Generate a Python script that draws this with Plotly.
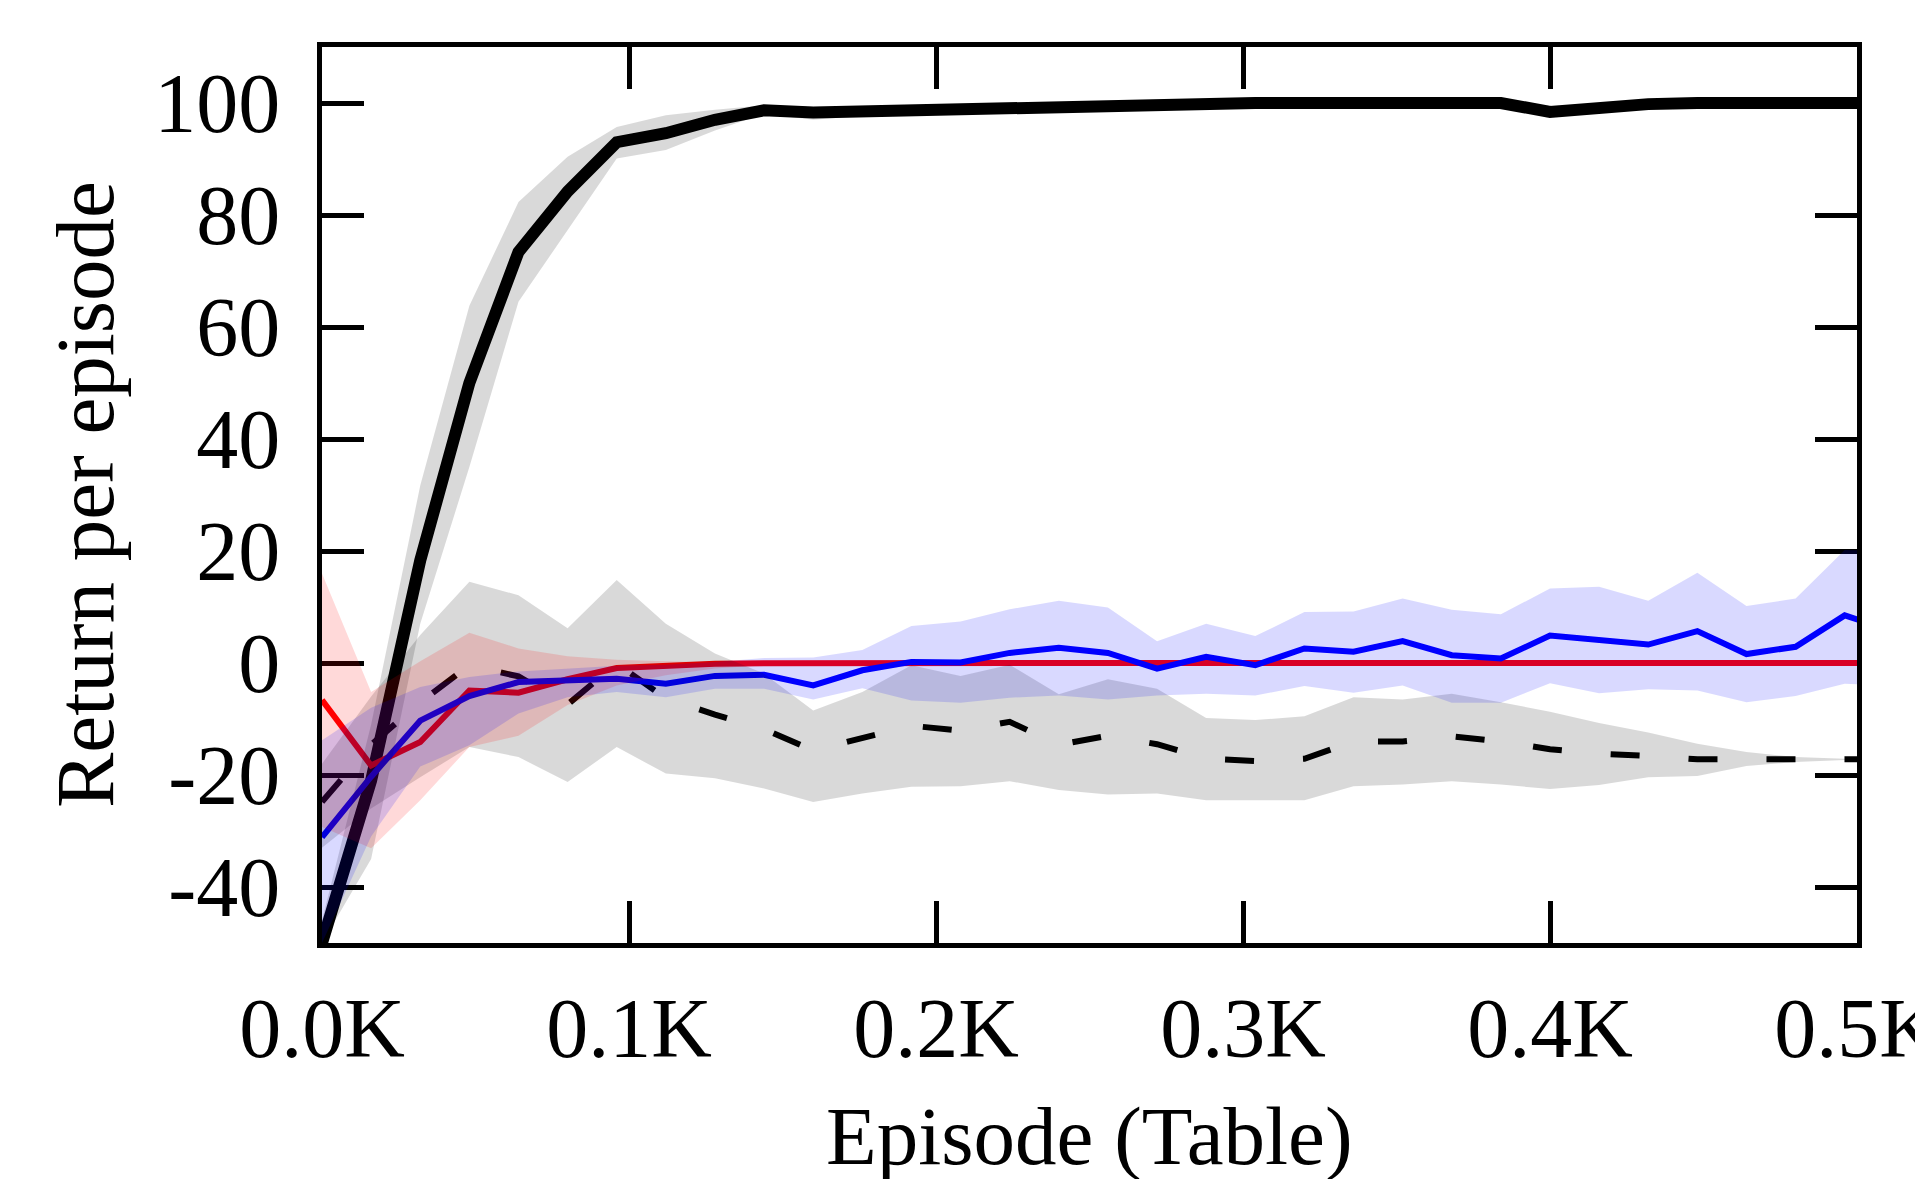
import plotly.graph_objects as go

# Episode grid (one point every 16 episodes; last point lies just past the axis end)
episodes = [0, 16, 32, 48, 64, 80, 96, 112, 128, 144, 160, 176, 192, 208, 224, 240,
            256, 272, 288, 304, 320, 336, 352, 368, 384, 400, 416, 432, 448, 464,
            480, 496, 512]

# Thick solid black series (mean, upper, lower)
solid_mean = [-50, -21, 18.3, 50, 73.4, 84.2, 93.0, 94.6, 97.0, 98.7, 98.3, 98.5, 98.7,
              99.0, 99.2, 99.5, 99.8, 100, 100, 100, 100, 100, 100, 100, 100, 98.4, 99.2,
              99.8, 100, 100, 100, 100, 100]
solid_hi = [-46, -11, 31.7, 63.8, 82.3, 90.4, 95.7, 97.8, 98.8, 99.6, 99.3, 99.3, 99.4,
            99.5, 99.6, 99.8, 99.9, 100, 100, 100, 100, 100, 100, 100, 100, 98.7, 99.4,
            99.9, 100, 100, 100, 100, 100]
solid_lo = [-50, -35, 7, 35, 64.5, 77.3, 90.1, 91.6, 95.1, 98.1, 97.0, 97.7, 98.0,
            98.5, 98.8, 99.2, 99.6, 100, 100, 100, 100, 100, 100, 100, 100, 97.9, 99.0,
            99.7, 100, 100, 100, 100, 100]

# Dashed black series
dashed_mean = [-24.8, -14.6, -7.0, -0.4, -2.4, -7.4, -0.1, -6.3, -9.2, -11.8, -15.6, -13.3,
               -11.2, -12.1, -10.5, -14.6, -13.0, -14.5, -17.1, -17.5, -17.1, -14.0, -14.0,
               -13.1, -14.0, -15.4, -16.2, -16.6, -17.2, -17.2, -17.2, -17.2, -17.2]
dashed_hi = [-18, -6, 5, 14.5, 12.1, 6.2, 14.8, 7.0, 1.7, -1.9, -8.5, -5.2, -0.4, -2.3,
             -0.3, -5.6, -2.9, -4.6, -9.8, -10.2, -9.5, -6.1, -6.5, -5.5, -7.0, -8.7,
             -10.7, -12.4, -14.4, -15.9, -16.8, -17.1, -17.2]
dashed_lo = [-33, -26, -20.4, -15.0, -16.8, -21.25, -15.0, -19.75, -20.6, -22.4, -24.8,
             -23.3, -22.1, -22.0, -21.1, -22.7, -23.5, -23.3, -24.5, -24.5, -24.5, -22.0,
             -21.7, -21.1, -21.7, -22.5, -21.8, -20.4, -20.2, -18.4, -17.7, -17.3, -17.2]

# Red series
red_mean = [-6.6, -18.3, -14.1, -4.9, -5.3, -2.9, -0.9, -0.4, -0.15, -0.05, 0, 0, 0, 0, 0,
            0, 0, 0, 0, 0, 0, 0, 0, 0, 0, 0, 0, 0, 0, 0, 0, 0, 0]
red_hi = [16.0, -5.2, 0.3, 5.4, 2.6, 1.2, 0.6, 0.3, 0.15, 0.05, 0, 0, 0, 0, 0, 0, 0, 0,
          0, 0, 0, 0, 0, 0, 0, 0, 0, 0, 0, 0, 0, 0, 0]
red_lo = [-29.3, -33.1, -24.5, -15.0, -13.0, -7.5, -4.0, -2.2, -1.0, -0.4, -0.1, 0, 0, 0,
          0, 0, 0, 0, 0, 0, 0, 0, 0, 0, 0, 0, 0, 0, 0, 0, 0, 0, 0]

# Blue series
blue_mean = [-31.1, -20.3, -10.3, -5.9, -3.4, -3.1, -2.8, -3.7, -2.3, -2.1, -4.0, -1.3,
             0.2, 0.1, 1.8, 2.7, 1.8, -1.0, 1.1, -0.4, 2.6, 2.0, 3.9, 1.4, 0.8, 4.9, 4.2,
             3.3, 5.7, 1.6, 2.9, 8.5, 5.7]
blue_hi = [-13.8, -8, -4.3, -2.5, -1.5, -1.0, -0.5, -0.3, 0.2, 0.9, 1.0, 2.3, 6.6, 7.4,
           9.6, 11.1, 9.9, 3.9, 7.0, 4.8, 9.1, 9.2, 11.5, 9.5, 8.7, 13.3, 13.6, 11.1,
           16.1, 10.2, 11.5, 20.2, 20.0]
blue_lo = [-50, -31, -18.5, -14.7, -9.0, -6.1, -5.2, -6.1, -4.6, -4.6, -6.5, -4.5, -6.7,
           -7.1, -6.2, -5.8, -6.5, -5.8, -5.5, -5.8, -4.1, -5.3, -4.0, -7.1, -7.1, -3.6,
           -5.4, -4.7, -4.9, -7.0, -5.9, -3.7, -4.0]

x_tickvals = [0, 100, 200, 300, 400, 500]
x_ticktext = ["0.0K", "0.1K", "0.2K", "0.3K", "0.4K", "0.5K"]
y_tickvals = [-40, -20, 0, 20, 40, 60, 80, 100]
y_ticktext = ["-40", "-20", "0", "20", "40", "60", "80", "100"]

FONT = "Liberation Serif, Times New Roman, serif"

fig = go.Figure()

def band(hi, lo, color):
    return go.Scatter(x=episodes + episodes[::-1], y=hi + lo[::-1], fill="toself",
                      fillcolor=color, line=dict(width=0), mode="lines",
                      hoverinfo="skip", showlegend=False)

# lines
fig.add_trace(go.Scatter(x=episodes, y=solid_mean, mode="lines",
                         line=dict(color="black", width=12), showlegend=False))
fig.add_trace(go.Scatter(x=episodes, y=dashed_mean, mode="lines",
                         line=dict(color="black", width=6, dash="29px,49px"), showlegend=False))
fig.add_trace(go.Scatter(x=episodes, y=red_mean, mode="lines",
                         line=dict(color="red", width=6), showlegend=False))
fig.add_trace(go.Scatter(x=episodes, y=blue_mean, mode="lines",
                         line=dict(color="blue", width=6), showlegend=False))
# bands
fig.add_trace(band(solid_hi, solid_lo, "rgba(0,0,0,0.15)"))
fig.add_trace(band(dashed_hi, dashed_lo, "rgba(0,0,0,0.15)"))
fig.add_trace(band(red_hi, red_lo, "rgba(255,0,0,0.15)"))
fig.add_trace(band(blue_hi, blue_lo, "rgba(0,0,255,0.15)"))

axis_common = dict(showline=True, linewidth=5, linecolor="black", mirror="ticks",
                   ticks="inside", ticklen=42, tickwidth=5, tickcolor="black",
                   showgrid=False, zeroline=False, layer="below traces",
                   ticklabeloverflow="allow", automargin=False,
                   tickfont=dict(family=FONT, size=84, color="black"))

fig.update_xaxes(range=[0, 500], tickmode="array", tickvals=x_tickvals,
                 ticktext=x_ticktext, ticklabelstandoff=8, **axis_common)
fig.update_yaxes(range=[-50, 110], tickmode="array", tickvals=y_tickvals,
                 ticktext=y_ticktext, ticklabelstandoff=20, **axis_common)

fig.add_annotation(text="Episode (Table)", xref="paper", yref="paper", x=0.5, y=0,
                   xanchor="center", yanchor="middle", yshift=-193, showarrow=False,
                   font=dict(family=FONT, size=83, color="black"))
fig.add_annotation(text="Return per episode", xref="paper", yref="paper", x=0, y=0.5,
                   xanchor="center", yanchor="middle", xshift=-237, textangle=-90,
                   showarrow=False, font=dict(family=FONT, size=83, color="black"))

fig.update_layout(width=1915, height=1179, autosize=False,
                  margin=dict(l=322, r=58, t=47, b=236, pad=0, autoexpand=False),
                  paper_bgcolor="white", plot_bgcolor="white", showlegend=False)

fig.write_html("out.html", config={"displayModeBar": False},
               post_script="document.body.style.margin='0';document.body.style.overflow='hidden';")
